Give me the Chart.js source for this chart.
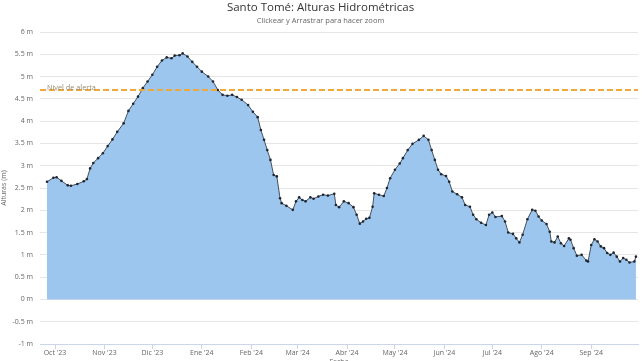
<!DOCTYPE html>
<html>
<head>
<meta charset="utf-8">
<script src="https://cdn.jsdelivr.net/npm/chart.js@4.4.1/dist/chart.umd.min.js"></script>
<style>
  html, body { margin: 0; padding: 0; background: #fff; overflow: hidden; }
  #wrap { width: 642px; height: 372px; }
</style>
</head>
<body>
<div id="wrap"><canvas id="c" width="642" height="372"></canvas></div>
<script>
// ---- data (day offsets counted from 1 Oct 2023) ----
const baseDate = '2023-10-01';
const dayOffsets = [
  -5,-1,1,4,8,10,14,18,20,22,
  24,27,30,33,36,39,43,46,49,52,
  55,58,61,64,67,70,73,75,78,80,
  83,86,89,92,96,99,102,105,108,111,
  114,117,121,124,127,129,131,133,135,137,
  139,141,142,145,149,151,153,155,157,160,
  162,165,168,171,175,176,178,181,184,187,
  189,191,193,195,197,199,200,203,206,208,
  210,213,216,218,221,224,228,231,234,236,
  238,240,242,245,247,249,252,255,257,260,
  262,264,267,270,272,274,276,280,282,284,
  287,289,291,293,296,299,301,303,305,308,
  310,311,313,315,317,319,322,323,325,327,
  330,333,334,336,338,340,342,344,346,348,
  350,352,354,356,358,360,363,364
];
const heights = [
  2.64,2.73,2.74,2.66,2.56,2.55,2.59,2.65,2.70,2.94,
  3.06,3.17,3.28,3.44,3.59,3.76,3.95,4.23,4.39,4.55,
  4.74,4.89,5.04,5.22,5.36,5.43,5.41,5.47,5.48,5.52,
  5.45,5.33,5.22,5.11,5.00,4.89,4.70,4.59,4.57,4.59,
  4.54,4.48,4.36,4.21,4.09,3.80,3.58,3.35,3.13,2.79,
  2.76,2.27,2.16,2.10,2.01,2.20,2.29,2.23,2.20,2.29,
  2.26,2.31,2.35,2.33,2.37,2.12,2.07,2.20,2.16,2.07,
  1.90,1.70,1.75,1.81,1.83,2.08,2.38,2.35,2.32,2.50,
  2.72,2.91,3.05,3.17,3.35,3.49,3.58,3.67,3.58,3.35,
  3.13,2.91,2.81,2.77,2.64,2.42,2.36,2.29,2.12,2.08,
  1.90,1.80,1.72,1.67,1.90,1.95,1.85,1.87,1.75,1.50,
  1.47,1.37,1.28,1.45,1.80,2.01,1.99,1.86,1.77,1.69,
  1.52,1.30,1.28,1.41,1.26,1.20,1.37,1.34,1.15,0.98,
  1.00,0.87,0.85,1.22,1.35,1.30,1.19,1.15,1.04,1.00,
  1.05,0.96,0.85,0.93,0.89,0.83,0.85,0.96
];
const monthOffsets = [0,31,61,92,123,152,183,213,244,274,305,336];
const monthLabels = ["Oct '23","Nov '23","Dic '23","Ene '24","Feb '24","Mar '24","Abr '24","May '24","Jun '24","Jul '24","Ago '24","Sep '24"];
const alertLevel = 4.7;
const alertLabel = 'Nivel de alerta';
const yMin = -1, yMax = 6, yStep = 0.5;
const xMin = -9.4, xMax = 365.3;

// ---- chart ----
Chart.defaults.font.family = "'Open Sans', 'DejaVu Sans', sans-serif";
Chart.defaults.color = '#666';

const series = dayOffsets.map((d, i) => ({ x: d, y: heights[i] }));
const alertLine = [{ x: xMin, y: alertLevel }, { x: xMax, y: alertLevel }];

const alertLabelPlugin = {
  id: 'alertLabel',
  afterDatasetsDraw(chart) {
    const y = chart.scales.y.getPixelForValue(alertLevel);
    const ctx = chart.ctx;
    ctx.save();
    ctx.font = "7.3px 'Open Sans', 'DejaVu Sans', sans-serif";
    ctx.fillStyle = '#968b72';
    ctx.textAlign = 'left';
    ctx.textBaseline = 'middle';
    ctx.fillText(alertLabel, chart.chartArea.left + 7, y - 2.5);
    ctx.restore();
  }
};

new Chart(document.getElementById('c'), {
  type: 'line',
  data: {
    datasets: [
      {
        label: alertLabel,
        data: alertLine,
        borderColor: '#efa83a',
        borderWidth: 2,
        borderDash: [6, 3],
        pointRadius: 0,
        fill: false,
        order: -1
      },
      {
        label: 'Altura',
        data: series,
        borderColor: '#44505f',
        borderWidth: 1,
        pointRadius: 1.3,
        pointBorderWidth: 0,
        pointBackgroundColor: '#1f2630',
        backgroundColor: '#9dc6ef',
        fill: 'origin',
        tension: 0,
        order: 1
      }
    ]
  },
  options: {
    responsive: false,
    animation: false,
    devicePixelRatio: 1,
    layout: { padding: { left: 0, right: 1, top: 0, bottom: 0 } },
    plugins: {
      legend: { display: false },
      tooltip: { enabled: false },
      title: {
        display: true,
        text: 'Santo Tomé: Alturas Hidrométricas',
        color: '#333',
        font: { size: 11.5, weight: 'normal' },
        padding: { top: 0.5, bottom: 0 }
      },
      subtitle: {
        display: true,
        text: 'Clickear y Arrastrar para hacer zoom',
        color: '#666',
        font: { size: 7.5, weight: 'normal' },
        padding: { top: 2.5, bottom: 6.2 }
      }
    },
    scales: {
      x: {
        type: 'linear',
        min: xMin,
        max: xMax,
        afterFit(s) { s.height = 28; },
        afterBuildTicks(s) { s.ticks = monthOffsets.map(v => ({ value: v })); },
        ticks: {
          autoSkip: false,
          maxRotation: 0,
          padding: 0,
          font: { size: 7 },
          color: '#666',
          callback(v) {
            const i = monthOffsets.indexOf(v);
            return i >= 0 ? monthLabels[i] : '';
          }
        },
        grid: {
          display: true,
          drawOnChartArea: false,
          drawTicks: true,
          tickLength: 5,
          color: '#ccd6eb'
        },
        border: { display: true, color: '#ccd6eb', width: 1 },
        title: {
          display: true,
          text: 'Fecha',
          color: '#666',
          font: { size: 7 },
          padding: { top: 0, bottom: 6 }
        }
      },
      y: {
        type: 'linear',
        min: yMin,
        max: yMax,
        afterFit(s) { s.width = 40; },
        ticks: {
          stepSize: yStep,
          padding: 7,
          font: { size: 7 },
          color: '#666',
          callback(v) { return v + ' m'; }
        },
        grid: { color: '#e6e6e6', drawTicks: false },
        border: { display: false },
        title: {
          display: true,
          text: 'Alturas (m)',
          color: '#666',
          font: { size: 7 },
          padding: { top: 0, bottom: 0 }
        }
      }
    }
  },
  plugins: [alertLabelPlugin]
});
</script>
</body>
</html>
